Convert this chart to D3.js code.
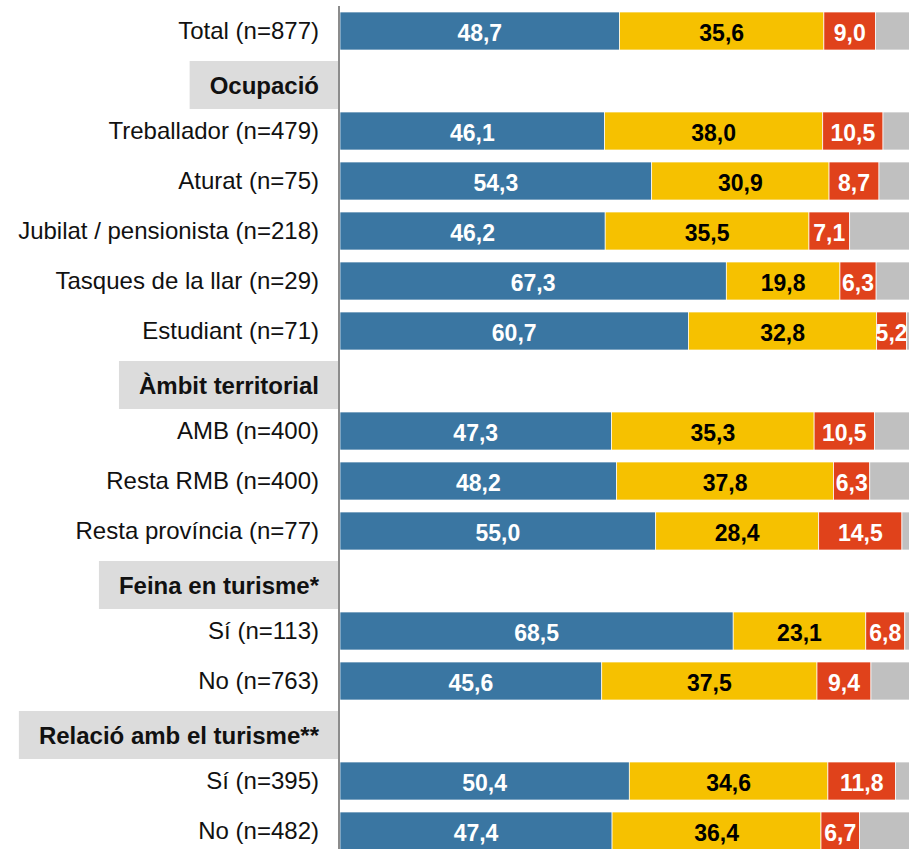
<!DOCTYPE html>
<html>
<head>
<meta charset="utf-8">
<script src="https://cdn.jsdelivr.net/npm/d3@7"></script>
<style>
  body { margin: 0; background: #fff; }
  text { font-family: "Liberation Sans", Arial, sans-serif; }
</style>
</head>
<body>
<div id="chart"></div>
<script>
(function() {
  var width = 909,
      height = 849;

  // rows from top to bottom, headers have no values
  var labels = ["Total (n=877)", "Ocupació", "Treballador (n=479)", "Aturat (n=75)",
    "Jubilat / pensionista (n=218)", "Tasques de la llar (n=29)", "Estudiant (n=71)",
    "Àmbit territorial", "AMB (n=400)", "Resta RMB (n=400)", "Resta província (n=77)",
    "Feina en turisme*", "Sí (n=113)", "No (n=763)",
    "Relació amb el turisme**", "Sí (n=395)", "No (n=482)"];
  var isHeader = [false, true, false, false, false, false, false, true, false, false, false,
    true, false, false, true, false, false];

  var blueValues   = [48.7, null, 46.1, 54.3, 46.2, 67.3, 60.7, null, 47.3, 48.2, 55.0, null, 68.5, 45.6, null, 50.4, 47.4];
  var yellowValues = [35.6, null, 38.0, 30.9, 35.5, 19.8, 32.8, null, 35.3, 37.8, 28.4, null, 23.1, 37.5, null, 34.6, 36.4];
  var redValues    = [9.0,  null, 10.5, 8.7,  7.1,  6.3,  5.2,  null, 10.5, 6.3,  14.5, null, 6.8,  9.4,  null, 11.8, 6.7];

  var colors = ["#3a76a2", "#f6c100", "#e0421b", "#c0c0c0"];
  var textColors = ["#fff", "#000", "#fff", null];

  var svg = d3.select("#chart")
    .append("svg")
    .attr("width", width)
    .attr("height", height);

  var y = d3.scaleBand()
    .domain(d3.range(labels.length))
    .range([6, 856])
    .paddingInner(0.24)
    .paddingOuter(0.12);

  var x = d3.scaleLinear().domain([0, 100]).range([340, 914]);

  var rows = labels.map(function(l, i) {
    return { i: i, label: l, header: isHeader[i], blue: blueValues[i], yellow: yellowValues[i], red: redValues[i] };
  });

  // header boxes + labels
  var labelX = 319;
  rows.forEach(function(d) {
    if (d.header) {
      var g = svg.append("g");
      var box = g.append("rect").attr("fill", "#dcdcdc");
      var t = g.append("text")
        .attr("x", labelX)
        .attr("y", y(d.i) + y.bandwidth() / 2 + 5)
        .attr("dy", "0.35em")
        .attr("text-anchor", "end")
        .attr("font-size", 24)
        .attr("font-weight", "bold")
        .attr("fill", "#111")
        .text(d.label);
      var bb = t.node().getBBox();
      box.attr("x", bb.x - 20)
        .attr("y", y(d.i) - 1)
        .attr("width", 338 - (bb.x - 20))
        .attr("height", 48);
    } else {
      svg.append("text")
        .attr("x", labelX)
        .attr("y", y(d.i) + y.bandwidth() / 2)
        .attr("dy", "0.35em")
        .attr("text-anchor", "end")
        .attr("font-size", 24)
        .attr("fill", "#111")
        .text(d.label);
    }
  });

  // stacked segments
  var barRows = rows.filter(function(d) { return !d.header; });
  barRows.forEach(function(d) {
    var vals = [d.blue, d.yellow, d.red, Math.max(0, 100 - d.blue - d.yellow - d.red)];
    var start = 0;
    vals.forEach(function(v, k) {
      svg.append("rect")
        .attr("x", x(start))
        .attr("y", y(d.i))
        .attr("width", x(start + v) - x(start))
        .attr("height", y.bandwidth())
        .attr("fill", colors[k])
        .attr("stroke", "#fff")
        .attr("stroke-width", 0.7);
      if (textColors[k]) {
        svg.append("text")
          .attr("x", x(start + v / 2))
          .attr("y", y(d.i) + y.bandwidth() / 2)
          .attr("dy", "0.45em")
          .attr("text-anchor", "middle")
          .attr("font-size", 23)
          .attr("font-weight", "bold")
          .attr("fill", textColors[k])
          .text(d3.format(".1f")(v).replace(".", ","));
      }
      start += v;
    });
  });

  // vertical axis line
  svg.append("line")
    .attr("x1", 339).attr("x2", 339)
    .attr("y1", 6).attr("y2", height)
    .attr("stroke", "#8c8c8c")
    .attr("stroke-width", 2);
})();
</script>
</body>
</html>
